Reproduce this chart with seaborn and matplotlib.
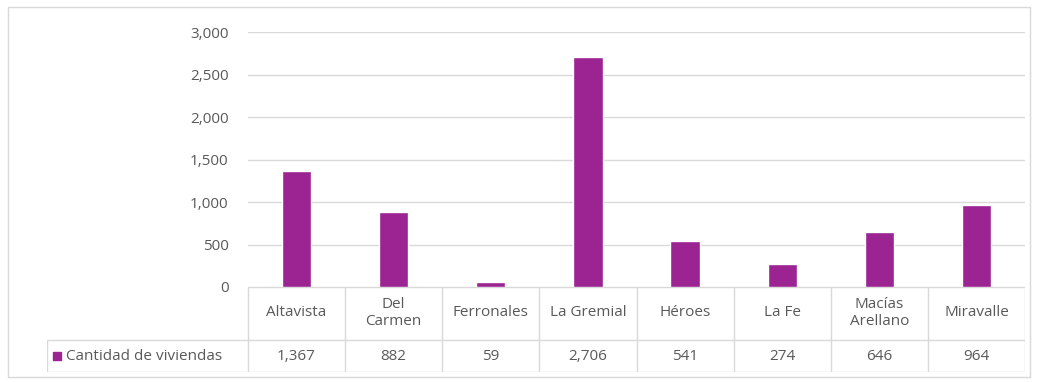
import seaborn as sns
from matplotlib import pyplot as plt
from matplotlib.patches import Rectangle
import pandas as pd

barrios = ['Altavista', 'Del\nCarmen', 'Ferronales', 'La Gremial', 'Héroes', 'La Fe', 'Macías\nArellano', 'Miravalle']
viviendas = [1367, 882, 59, 2706, 541, 274, 646, 964]
serie = 'Cantidad de viviendas'
yticks = [0, 500, 1000, 1500, 2000, 2500, 3000]

df = pd.DataFrame({'barrio': barrios, 'viviendas': viviendas})

purple = '#9C2392'
gray_txt = '#595959'
line_c = '#D9D9D9'
fs = 11

sns.set_style('white')
plt.rcParams['font.family'] = ['Open Sans', 'DejaVu Sans']

W, H = 1038, 382
fig = plt.figure(figsize=(W / 100, H / 100), dpi=100)

# outer chart border
fig.patches.append(Rectangle((8 / W, 1 - 377 / H), 1022 / W, 370 / H, transform=fig.transFigure,
                             fill=False, edgecolor=line_c, linewidth=1))

x0, x1 = 248 / W, 1025 / W
ytop, ybot = 32, 287
ax = fig.add_axes([x0, 1 - ybot / H, x1 - x0, (ybot - ytop) / H])
sns.barplot(data=df, x='barrio', y='viviendas', color=purple, width=0.3, saturation=1, ax=ax)
ax.set_ylim(0, 3000)
ax.set_xlim(-0.5, len(barrios) - 0.5)
ax.set_yticks(yticks)
ax.set_yticklabels([f'{v:,}' for v in yticks], color=gray_txt, fontsize=fs)
ax.tick_params(axis='y', length=0, pad=14)
ax.set_xticks([])
ax.set_xlabel('')
ax.set_ylabel('')
for s in ax.spines.values():
    s.set_visible(False)
ax.yaxis.grid(True, color=line_c, linewidth=1)
ax.set_axisbelow(True)

# data table below the plot
tab = fig.add_axes([47 / W, 1 - 372 / H, x1 - 47 / W, 85 / H])
tab.set_xlim(47, 1025)
tab.set_ylim(0, 85)
tab.axis('off')
colw = (1025 - 248) / len(barrios)
lk = dict(color=line_c, linewidth=1)
tab.plot([248, 1025], [85, 85], **lk)
tab.plot([47, 1025], [32, 32], **lk)
tab.plot([47, 1025], [0, 0], **lk)
tab.plot([47, 47], [0, 32], **lk)
for i in range(len(barrios) + 1):
    xc = 248 + i * colw
    tab.plot([xc, xc], [0, 85], **lk)
for i, (b, v) in enumerate(zip(barrios, viviendas)):
    xc = 248 + (i + 0.5) * colw
    tab.text(xc, 59, b, ha='center', va='center', color=gray_txt, fontsize=fs, linespacing=1.25)
    tab.text(xc, 16, f'{v:,}', ha='center', va='center', color=gray_txt, fontsize=fs)
tab.add_patch(Rectangle((53, 12), 8, 8, color=purple))
tab.text(66, 16, serie, ha='left', va='center', color=gray_txt, fontsize=fs)

plt.savefig('out.png', dpi=100)
plt.close()
